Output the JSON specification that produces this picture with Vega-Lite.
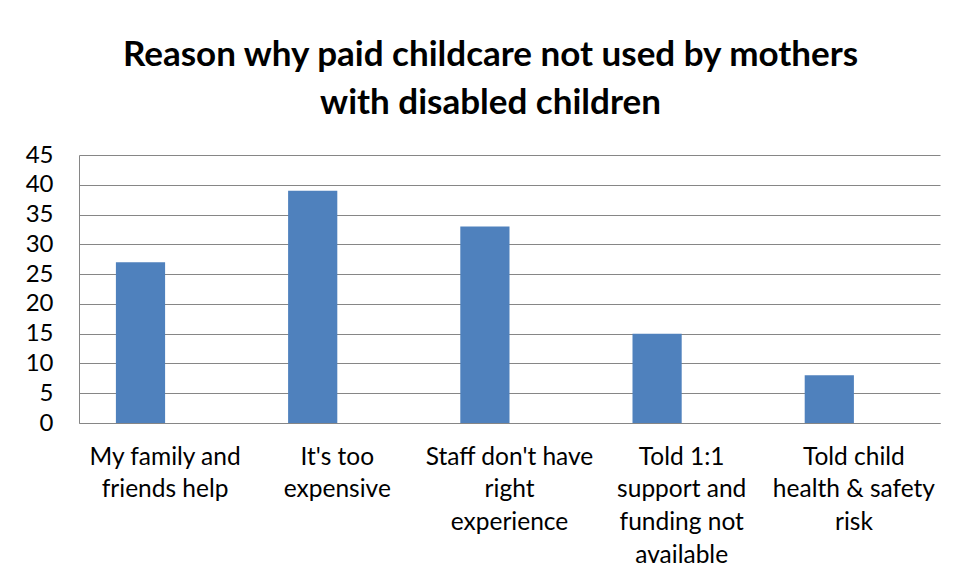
{
  "$schema": "https://vega.github.io/schema/vega-lite/v6.json",
  "width": 861,
  "height": 268,
  "autosize": {"type": "none"},
  "padding": {"left": 79, "top": 155, "right": 17, "bottom": 157},
  "background": "white",
  "title": {
    "text": ["Reason why paid childcare not used by mothers", "with disabled children"],
    "font": "Lato",
    "fontSize": 35,
    "fontWeight": "bold",
    "color": "#000000",
    "lineHeight": 48,
    "anchor": "middle",
    "dx": -19,
    "offset": 22
  },
  "data": {
    "values": [
      {"reason": "My family and|friends help", "series": "A", "value": 27},
      {"reason": "It's too|expensive", "series": "A", "value": 39},
      {"reason": "Staff don't have|right|experience", "series": "A", "value": 33},
      {"reason": "Told 1:1|support and|funding not|available", "series": "A", "value": 15},
      {"reason": "Told child|health & safety|risk", "series": "A", "value": 8}
    ]
  },
  "mark": {"type": "bar", "color": "#4F81BD"},
  "encoding": {
    "x": {
      "field": "reason",
      "type": "nominal",
      "sort": null,
      "scale": {"paddingInner": 0, "paddingOuter": 0},
      "axis": {
        "title": null,
        "labelAngle": 0,
        "labelExpr": "split(datum.label, '|')",
        "labelFont": "Lato",
        "labelFontSize": 24.5,
        "labelColor": "#000000",
        "labelLineHeight": 32.7,
        "labelPadding": 22,
        "labelLimit": 300,
        "ticks": false,
        "domainColor": "#868686",
        "domainWidth": 1,
        "grid": false
      }
    },
    "xOffset": {
      "field": "series",
      "type": "nominal",
      "scale": {"domain": ["A", "B"], "paddingInner": 0, "paddingOuter": 0.75}
    },
    "y": {
      "field": "value",
      "type": "quantitative",
      "scale": {"domain": [0, 45], "nice": false},
      "axis": {
        "title": null,
        "values": [0, 5, 10, 15, 20, 25, 30, 35, 40, 45],
        "labelFont": "Lato",
        "labelFontSize": 24,
        "labelColor": "#000000",
        "labelPadding": 26,
        "ticks": false,
        "domainColor": "#868686",
        "gridColor": "#868686",
        "gridWidth": 1
      }
    }
  },
  "config": {
    "view": {"stroke": null},
    "axis": {"labelFlush": false}
  }
}
